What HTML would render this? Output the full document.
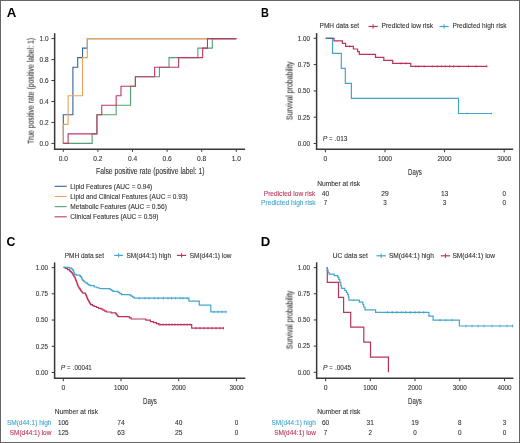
<!DOCTYPE html>
<html><head><meta charset="utf-8"><title>Figure</title>
<style>
html,body{margin:0;padding:0;background:#fff;}
body{width:520px;height:443px;overflow:hidden;}
svg{display:block;font-family:"Liberation Sans", sans-serif;}
text{will-change:transform;}
</style></head>
<body>
<svg width="520" height="443" viewBox="0 0 520 443">
<rect x="0" y="0" width="520" height="443" fill="#fff"/>
<rect x="0.5" y="0.5" width="519" height="442" fill="none" stroke="#666" stroke-width="1"/>
<text x="6.72" y="16.60" font-size="12.3" fill="#000" textLength="9.57" lengthAdjust="spacingAndGlyphs" font-weight="bold">A</text>
<text x="260.97" y="16.60" font-size="12.3" fill="#000" textLength="7.90" lengthAdjust="spacingAndGlyphs" font-weight="bold">B</text>
<text x="6.55" y="245.70" font-size="12.3" fill="#000" textLength="8.88" lengthAdjust="spacingAndGlyphs" font-weight="bold">C</text>
<text x="260.82" y="245.80" font-size="12.3" fill="#000" textLength="9.50" lengthAdjust="spacingAndGlyphs" font-weight="bold">D</text>
<line x1="54.65" y1="33.20" x2="54.65" y2="149.95" stroke="#383838" stroke-width="1.5"/>
<line x1="54.00" y1="149.30" x2="245.10" y2="149.30" stroke="#383838" stroke-width="1.5"/>
<line x1="51.40" y1="143.40" x2="54.65" y2="143.40" stroke="#383838" stroke-width="1.0"/>
<text x="39.60" y="145.70" font-size="6.6" fill="#333333" stroke="#333333" stroke-width="0.1" textLength="9.00" lengthAdjust="spacingAndGlyphs">0.0</text>
<line x1="63.30" y1="149.30" x2="63.30" y2="151.80" stroke="#383838" stroke-width="1.0"/>
<text x="58.70" y="161.30" font-size="6.6" fill="#333333" stroke="#333333" stroke-width="0.1" textLength="9.20" lengthAdjust="spacingAndGlyphs">0.0</text>
<line x1="51.40" y1="122.44" x2="54.65" y2="122.44" stroke="#383838" stroke-width="1.0"/>
<text x="39.60" y="124.74" font-size="6.6" fill="#333333" stroke="#333333" stroke-width="0.1" textLength="9.00" lengthAdjust="spacingAndGlyphs">0.2</text>
<line x1="97.90" y1="149.30" x2="97.90" y2="151.80" stroke="#383838" stroke-width="1.0"/>
<text x="93.30" y="161.30" font-size="6.6" fill="#333333" stroke="#333333" stroke-width="0.1" textLength="9.20" lengthAdjust="spacingAndGlyphs">0.2</text>
<line x1="51.40" y1="101.48" x2="54.65" y2="101.48" stroke="#383838" stroke-width="1.0"/>
<text x="39.60" y="103.78" font-size="6.6" fill="#333333" stroke="#333333" stroke-width="0.1" textLength="9.00" lengthAdjust="spacingAndGlyphs">0.4</text>
<line x1="132.50" y1="149.30" x2="132.50" y2="151.80" stroke="#383838" stroke-width="1.0"/>
<text x="127.90" y="161.30" font-size="6.6" fill="#333333" stroke="#333333" stroke-width="0.1" textLength="9.20" lengthAdjust="spacingAndGlyphs">0.4</text>
<line x1="51.40" y1="80.52" x2="54.65" y2="80.52" stroke="#383838" stroke-width="1.0"/>
<text x="39.60" y="82.82" font-size="6.6" fill="#333333" stroke="#333333" stroke-width="0.1" textLength="9.00" lengthAdjust="spacingAndGlyphs">0.6</text>
<line x1="167.10" y1="149.30" x2="167.10" y2="151.80" stroke="#383838" stroke-width="1.0"/>
<text x="162.50" y="161.30" font-size="6.6" fill="#333333" stroke="#333333" stroke-width="0.1" textLength="9.20" lengthAdjust="spacingAndGlyphs">0.6</text>
<line x1="51.40" y1="59.56" x2="54.65" y2="59.56" stroke="#383838" stroke-width="1.0"/>
<text x="39.60" y="61.86" font-size="6.6" fill="#333333" stroke="#333333" stroke-width="0.1" textLength="9.00" lengthAdjust="spacingAndGlyphs">0.8</text>
<line x1="201.70" y1="149.30" x2="201.70" y2="151.80" stroke="#383838" stroke-width="1.0"/>
<text x="197.10" y="161.30" font-size="6.6" fill="#333333" stroke="#333333" stroke-width="0.1" textLength="9.20" lengthAdjust="spacingAndGlyphs">0.8</text>
<line x1="51.40" y1="38.60" x2="54.65" y2="38.60" stroke="#383838" stroke-width="1.0"/>
<text x="39.60" y="40.90" font-size="6.6" fill="#333333" stroke="#333333" stroke-width="0.1" textLength="9.00" lengthAdjust="spacingAndGlyphs">1.0</text>
<line x1="236.30" y1="149.30" x2="236.30" y2="151.80" stroke="#383838" stroke-width="1.0"/>
<text x="231.70" y="161.30" font-size="6.6" fill="#333333" stroke="#333333" stroke-width="0.1" textLength="9.20" lengthAdjust="spacingAndGlyphs">1.0</text>
<text x="96.00" y="173.80" font-size="8.5" fill="#333333" stroke="#333333" stroke-width="0.1" textLength="108.60" lengthAdjust="spacingAndGlyphs">False positive rate (positive label: 1)</text>
<g transform="translate(33.7,143.9) rotate(-90)">
<text x="0.00" y="0.00" font-size="8.5" fill="#333333" stroke="#333333" stroke-width="0.1" textLength="106.00" lengthAdjust="spacingAndGlyphs">True positive rate (positive label: 1)</text>
</g>
<polyline points="63.30,143.40 63.30,114.82 72.91,114.82 72.91,67.18 77.72,67.18 77.72,57.65 82.52,57.65 82.52,48.13 87.33,48.13 87.33,38.60 236.30,38.60" fill="none" stroke="#33649a" stroke-width="1.1" stroke-linejoin="miter"/>
<polyline points="63.30,143.40 63.30,124.35 68.11,124.35 68.11,95.76 82.52,95.76 82.52,57.65 87.33,57.65 87.33,38.60 236.30,38.60" fill="none" stroke="#eba25e" stroke-width="1.1" stroke-linejoin="miter"/>
<polyline points="63.30,143.40 92.13,143.40 92.13,133.87 96.94,133.87 96.94,114.82 116.16,114.82 116.16,105.29 130.58,105.29 130.58,86.24 135.38,86.24 135.38,76.71 159.41,76.71 159.41,67.18 169.02,67.18 169.02,57.65 197.86,57.65 197.86,48.13 212.27,48.13 212.27,38.60 236.30,38.60" fill="none" stroke="#52a26e" stroke-width="1.1" stroke-linejoin="miter"/>
<polyline points="63.30,143.40 68.11,143.40 68.11,133.87 96.94,133.87 96.94,114.82 101.74,114.82 101.74,105.29 116.16,105.29 116.16,95.76 120.97,95.76 120.97,86.24 135.38,86.24 135.38,76.71 154.61,76.71 154.61,67.18 178.63,67.18 178.63,57.65 202.66,57.65 202.66,48.13 207.47,48.13 207.47,38.60 236.30,38.60" fill="none" stroke="#bf3a60" stroke-width="1.1" stroke-linejoin="miter"/>
<line x1="54.60" y1="186.30" x2="66.70" y2="186.30" stroke="#33649a" stroke-width="1.1"/>
<text x="70.30" y="188.80" font-size="6.5" fill="#333333" stroke="#333333" stroke-width="0.1" textLength="82.00" lengthAdjust="spacingAndGlyphs">Lipid Features (AUC = 0.94)</text>
<line x1="54.60" y1="196.47" x2="66.70" y2="196.47" stroke="#eba25e" stroke-width="1.1"/>
<text x="70.30" y="198.97" font-size="6.5" fill="#333333" stroke="#333333" stroke-width="0.1" textLength="117.50" lengthAdjust="spacingAndGlyphs">Lipid and Clinical Features (AUC = 0.93)</text>
<line x1="54.60" y1="206.64" x2="66.70" y2="206.64" stroke="#52a26e" stroke-width="1.1"/>
<text x="70.30" y="209.14" font-size="6.5" fill="#333333" stroke="#333333" stroke-width="0.1" textLength="96.60" lengthAdjust="spacingAndGlyphs">Metabolic Features (AUC = 0.56)</text>
<line x1="54.60" y1="216.81" x2="66.70" y2="216.81" stroke="#bf3a60" stroke-width="1.1"/>
<text x="70.30" y="219.31" font-size="6.5" fill="#333333" stroke="#333333" stroke-width="0.1" textLength="88.20" lengthAdjust="spacingAndGlyphs">Clinical Features (AUC = 0.59)</text>
<line x1="316.60" y1="33.10" x2="316.60" y2="149.95" stroke="#383838" stroke-width="1.5"/>
<line x1="315.95" y1="149.30" x2="513.20" y2="149.30" stroke="#383838" stroke-width="1.5"/>
<line x1="313.70" y1="143.50" x2="316.60" y2="143.50" stroke="#383838" stroke-width="1.0"/>
<text x="297.70" y="145.80" font-size="6.6" fill="#333333" stroke="#333333" stroke-width="0.1" textLength="12.20" lengthAdjust="spacingAndGlyphs">0.00</text>
<line x1="313.70" y1="117.20" x2="316.60" y2="117.20" stroke="#383838" stroke-width="1.0"/>
<text x="297.70" y="119.50" font-size="6.6" fill="#333333" stroke="#333333" stroke-width="0.1" textLength="12.20" lengthAdjust="spacingAndGlyphs">0.25</text>
<line x1="313.70" y1="90.90" x2="316.60" y2="90.90" stroke="#383838" stroke-width="1.0"/>
<text x="297.70" y="93.20" font-size="6.6" fill="#333333" stroke="#333333" stroke-width="0.1" textLength="12.20" lengthAdjust="spacingAndGlyphs">0.50</text>
<line x1="313.70" y1="64.60" x2="316.60" y2="64.60" stroke="#383838" stroke-width="1.0"/>
<text x="297.70" y="66.90" font-size="6.6" fill="#333333" stroke="#333333" stroke-width="0.1" textLength="12.20" lengthAdjust="spacingAndGlyphs">0.75</text>
<line x1="313.70" y1="38.30" x2="316.60" y2="38.30" stroke="#383838" stroke-width="1.0"/>
<text x="297.70" y="40.60" font-size="6.6" fill="#333333" stroke="#333333" stroke-width="0.1" textLength="12.20" lengthAdjust="spacingAndGlyphs">1.00</text>
<line x1="325.40" y1="149.30" x2="325.40" y2="152.30" stroke="#383838" stroke-width="1.0"/>
<text x="323.50" y="160.90" font-size="6.6" fill="#333333" stroke="#333333" stroke-width="0.1" textLength="3.80" lengthAdjust="spacingAndGlyphs">0</text>
<line x1="385.00" y1="149.30" x2="385.00" y2="152.30" stroke="#383838" stroke-width="1.0"/>
<text x="378.00" y="160.90" font-size="6.6" fill="#333333" stroke="#333333" stroke-width="0.1" textLength="14.00" lengthAdjust="spacingAndGlyphs">1000</text>
<line x1="444.60" y1="149.30" x2="444.60" y2="152.30" stroke="#383838" stroke-width="1.0"/>
<text x="437.60" y="160.90" font-size="6.6" fill="#333333" stroke="#333333" stroke-width="0.1" textLength="14.00" lengthAdjust="spacingAndGlyphs">2000</text>
<line x1="504.20" y1="149.30" x2="504.20" y2="152.30" stroke="#383838" stroke-width="1.0"/>
<text x="497.20" y="160.90" font-size="6.6" fill="#333333" stroke="#333333" stroke-width="0.1" textLength="14.00" lengthAdjust="spacingAndGlyphs">3000</text>
<text x="408.10" y="174.50" font-size="8.8" fill="#333333" stroke="#333333" stroke-width="0.1" textLength="13.80" lengthAdjust="spacingAndGlyphs">Days</text>
<g transform="translate(292.5,120.1) rotate(-90)">
<text x="0.00" y="0.00" font-size="8.8" fill="#333333" stroke="#333333" stroke-width="0.1" textLength="58.60" lengthAdjust="spacingAndGlyphs">Survival probability</text>
</g>
<text x="322.80" y="140.60" font-size="6.8" fill="#333333" stroke="#333333" stroke-width="0.1" font-style="italic">P</text>
<text x="329.10" y="140.60" font-size="6.8" fill="#333333" stroke="#333333" stroke-width="0.1" textLength="3.40" lengthAdjust="spacingAndGlyphs">=</text>
<text x="334.80" y="140.60" font-size="6.8" fill="#333333" stroke="#333333" stroke-width="0.1" textLength="12.60" lengthAdjust="spacingAndGlyphs">.013</text>
<text x="319.60" y="28.40" font-size="6.5" fill="#333333" stroke="#333333" stroke-width="0.1" textLength="39.50" lengthAdjust="spacingAndGlyphs">PMH data set</text>
<line x1="368.50" y1="26.50" x2="377.70" y2="26.50" stroke="#bd3358" stroke-width="1.2"/>
<line x1="373.10" y1="24.30" x2="373.10" y2="28.70" stroke="#bd3358" stroke-width="1.0"/>
<text x="381.50" y="28.40" font-size="6.5" fill="#333333" stroke="#333333" stroke-width="0.1" textLength="51.60" lengthAdjust="spacingAndGlyphs">Predicted low risk</text>
<line x1="439.50" y1="26.50" x2="448.70" y2="26.50" stroke="#42a6cf" stroke-width="1.2"/>
<line x1="444.10" y1="24.30" x2="444.10" y2="28.70" stroke="#42a6cf" stroke-width="1.0"/>
<text x="452.50" y="28.40" font-size="6.5" fill="#333333" stroke="#333333" stroke-width="0.1" textLength="54.00" lengthAdjust="spacingAndGlyphs">Predicted high risk</text>
<polyline points="325.80,38.40 334.00,38.40 334.00,40.90 342.40,40.90 342.40,43.40 345.60,43.40 345.60,46.30 353.40,46.30 353.40,49.00 357.60,49.00 357.60,51.60 359.30,51.60 359.30,54.40 375.50,54.40 375.50,57.40 383.80,57.40 383.80,60.30 392.70,60.30 392.70,63.40 410.80,63.40 410.80,66.40 487.30,66.40" fill="none" stroke="#bd3358" stroke-width="1.2" stroke-linejoin="miter"/>
<line x1="349.50" y1="45.20" x2="349.50" y2="47.40" stroke="#bd3358" stroke-width="0.7"/>
<line x1="401.00" y1="62.30" x2="401.00" y2="64.50" stroke="#bd3358" stroke-width="0.7"/>
<line x1="405.80" y1="62.30" x2="405.80" y2="64.50" stroke="#bd3358" stroke-width="0.7"/>
<line x1="415.80" y1="65.30" x2="415.80" y2="67.50" stroke="#bd3358" stroke-width="0.7"/>
<line x1="418.80" y1="65.30" x2="418.80" y2="67.50" stroke="#bd3358" stroke-width="0.7"/>
<line x1="424.20" y1="65.30" x2="424.20" y2="67.50" stroke="#bd3358" stroke-width="0.7"/>
<line x1="432.40" y1="65.30" x2="432.40" y2="67.50" stroke="#bd3358" stroke-width="0.7"/>
<line x1="437.30" y1="65.30" x2="437.30" y2="67.50" stroke="#bd3358" stroke-width="0.7"/>
<line x1="441.60" y1="65.30" x2="441.60" y2="67.50" stroke="#bd3358" stroke-width="0.7"/>
<line x1="445.30" y1="65.30" x2="445.30" y2="67.50" stroke="#bd3358" stroke-width="0.7"/>
<line x1="449.60" y1="65.30" x2="449.60" y2="67.50" stroke="#bd3358" stroke-width="0.7"/>
<line x1="453.50" y1="65.30" x2="453.50" y2="67.50" stroke="#bd3358" stroke-width="0.7"/>
<line x1="458.80" y1="65.30" x2="458.80" y2="67.50" stroke="#bd3358" stroke-width="0.7"/>
<line x1="468.50" y1="65.30" x2="468.50" y2="67.50" stroke="#bd3358" stroke-width="0.7"/>
<line x1="476.20" y1="65.30" x2="476.20" y2="67.50" stroke="#bd3358" stroke-width="0.7"/>
<line x1="486.70" y1="65.30" x2="486.70" y2="67.50" stroke="#bd3358" stroke-width="0.7"/>
<polyline points="325.80,38.40 332.50,38.40 332.50,53.40 341.30,53.40 341.30,68.40 345.30,68.40 345.30,83.40 351.40,83.40 351.40,98.40 458.50,98.40 458.50,113.50 491.50,113.50" fill="none" stroke="#42a6cf" stroke-width="1.2" stroke-linejoin="miter"/>
<line x1="467.00" y1="112.40" x2="467.00" y2="114.60" stroke="#42a6cf" stroke-width="0.7"/>
<line x1="491.30" y1="112.40" x2="491.30" y2="114.60" stroke="#42a6cf" stroke-width="0.7"/>
<line x1="325.80" y1="38.40" x2="333.00" y2="38.40" stroke="#4d6f80" stroke-width="1.2"/>
<text x="317.20" y="185.50" font-size="6.8" fill="#333333" stroke="#333333" stroke-width="0.1" textLength="43.00" lengthAdjust="spacingAndGlyphs">Number at risk</text>
<text x="263.80" y="195.90" font-size="6.8" fill="#bd3358" stroke="#bd3358" stroke-width="0.1" textLength="51.40" lengthAdjust="spacingAndGlyphs">Predicted low risk</text>
<text x="261.10" y="205.20" font-size="6.8" fill="#42a6cf" stroke="#42a6cf" stroke-width="0.1" textLength="54.60" lengthAdjust="spacingAndGlyphs">Predicted high risk</text>
<text x="321.70" y="195.90" font-size="6.8" fill="#333333" stroke="#333333" stroke-width="0.1" textLength="7.40" lengthAdjust="spacingAndGlyphs">40</text>
<text x="323.65" y="205.20" font-size="6.8" fill="#333333" stroke="#333333" stroke-width="0.1" textLength="3.50" lengthAdjust="spacingAndGlyphs">7</text>
<text x="381.30" y="195.90" font-size="6.8" fill="#333333" stroke="#333333" stroke-width="0.1" textLength="7.40" lengthAdjust="spacingAndGlyphs">29</text>
<text x="383.25" y="205.20" font-size="6.8" fill="#333333" stroke="#333333" stroke-width="0.1" textLength="3.50" lengthAdjust="spacingAndGlyphs">3</text>
<text x="440.90" y="195.90" font-size="6.8" fill="#333333" stroke="#333333" stroke-width="0.1" textLength="7.40" lengthAdjust="spacingAndGlyphs">13</text>
<text x="442.85" y="205.20" font-size="6.8" fill="#333333" stroke="#333333" stroke-width="0.1" textLength="3.50" lengthAdjust="spacingAndGlyphs">3</text>
<text x="502.45" y="195.90" font-size="6.8" fill="#333333" stroke="#333333" stroke-width="0.1" textLength="3.50" lengthAdjust="spacingAndGlyphs">0</text>
<text x="502.45" y="205.20" font-size="6.8" fill="#333333" stroke="#333333" stroke-width="0.1" textLength="3.50" lengthAdjust="spacingAndGlyphs">0</text>
<line x1="54.60" y1="262.40" x2="54.60" y2="378.90" stroke="#383838" stroke-width="1.5"/>
<line x1="53.95" y1="378.25" x2="245.30" y2="378.25" stroke="#383838" stroke-width="1.5"/>
<line x1="51.70" y1="372.50" x2="54.60" y2="372.50" stroke="#383838" stroke-width="1.0"/>
<text x="35.70" y="374.80" font-size="6.6" fill="#333333" stroke="#333333" stroke-width="0.1" textLength="12.20" lengthAdjust="spacingAndGlyphs">0.00</text>
<line x1="51.70" y1="346.27" x2="54.60" y2="346.27" stroke="#383838" stroke-width="1.0"/>
<text x="35.70" y="348.57" font-size="6.6" fill="#333333" stroke="#333333" stroke-width="0.1" textLength="12.20" lengthAdjust="spacingAndGlyphs">0.25</text>
<line x1="51.70" y1="320.05" x2="54.60" y2="320.05" stroke="#383838" stroke-width="1.0"/>
<text x="35.70" y="322.35" font-size="6.6" fill="#333333" stroke="#333333" stroke-width="0.1" textLength="12.20" lengthAdjust="spacingAndGlyphs">0.50</text>
<line x1="51.70" y1="293.82" x2="54.60" y2="293.82" stroke="#383838" stroke-width="1.0"/>
<text x="35.70" y="296.12" font-size="6.6" fill="#333333" stroke="#333333" stroke-width="0.1" textLength="12.20" lengthAdjust="spacingAndGlyphs">0.75</text>
<line x1="51.70" y1="267.60" x2="54.60" y2="267.60" stroke="#383838" stroke-width="1.0"/>
<text x="35.70" y="269.90" font-size="6.6" fill="#333333" stroke="#333333" stroke-width="0.1" textLength="12.20" lengthAdjust="spacingAndGlyphs">1.00</text>
<line x1="63.30" y1="378.25" x2="63.30" y2="381.25" stroke="#383838" stroke-width="1.0"/>
<text x="61.40" y="389.60" font-size="6.6" fill="#333333" stroke="#333333" stroke-width="0.1" textLength="3.80" lengthAdjust="spacingAndGlyphs">0</text>
<line x1="121.00" y1="378.25" x2="121.00" y2="381.25" stroke="#383838" stroke-width="1.0"/>
<text x="114.00" y="389.60" font-size="6.6" fill="#333333" stroke="#333333" stroke-width="0.1" textLength="14.00" lengthAdjust="spacingAndGlyphs">1000</text>
<line x1="178.70" y1="378.25" x2="178.70" y2="381.25" stroke="#383838" stroke-width="1.0"/>
<text x="171.70" y="389.60" font-size="6.6" fill="#333333" stroke="#333333" stroke-width="0.1" textLength="14.00" lengthAdjust="spacingAndGlyphs">2000</text>
<line x1="236.40" y1="378.25" x2="236.40" y2="381.25" stroke="#383838" stroke-width="1.0"/>
<text x="229.40" y="389.60" font-size="6.6" fill="#333333" stroke="#333333" stroke-width="0.1" textLength="14.00" lengthAdjust="spacingAndGlyphs">3000</text>
<text x="143.00" y="403.80" font-size="8.8" fill="#333333" stroke="#333333" stroke-width="0.1" textLength="13.90" lengthAdjust="spacingAndGlyphs">Days</text>
<text x="60.80" y="370.40" font-size="6.8" fill="#333333" stroke="#333333" stroke-width="0.1" font-style="italic">P</text>
<text x="67.10" y="370.40" font-size="6.8" fill="#333333" stroke="#333333" stroke-width="0.1" textLength="3.40" lengthAdjust="spacingAndGlyphs">=</text>
<text x="72.80" y="370.40" font-size="6.8" fill="#333333" stroke="#333333" stroke-width="0.1" textLength="19.00" lengthAdjust="spacingAndGlyphs">.00041</text>
<text x="64.80" y="257.60" font-size="6.5" fill="#333333" stroke="#333333" stroke-width="0.1" textLength="39.20" lengthAdjust="spacingAndGlyphs">PMH data set</text>
<line x1="114.20" y1="255.40" x2="123.10" y2="255.40" stroke="#42a6cf" stroke-width="1.2"/>
<line x1="118.65" y1="253.20" x2="118.65" y2="257.60" stroke="#42a6cf" stroke-width="1.0"/>
<text x="126.50" y="257.60" font-size="6.5" fill="#333333" stroke="#333333" stroke-width="0.1" textLength="44.60" lengthAdjust="spacingAndGlyphs">SM(d44:1) high</text>
<line x1="176.90" y1="255.40" x2="186.20" y2="255.40" stroke="#bd3358" stroke-width="1.2"/>
<line x1="181.55" y1="253.20" x2="181.55" y2="257.60" stroke="#bd3358" stroke-width="1.0"/>
<text x="189.70" y="257.60" font-size="6.5" fill="#333333" stroke="#333333" stroke-width="0.1" textLength="41.80" lengthAdjust="spacingAndGlyphs">SM(d44:1) low</text>
<polyline points="63.50,267.30 65.20,267.30 65.20,268.50 67.50,268.50 67.50,269.60 69.50,269.60 69.50,270.80 70.40,270.80 70.40,271.65 71.30,271.65 71.30,272.50 72.15,272.50 72.15,273.65 73.00,273.65 73.00,274.80 73.70,274.80 73.70,276.00 74.40,276.00 74.40,277.20 75.10,277.20 75.10,278.40 75.46,278.40 75.46,279.34 75.82,279.34 75.82,280.28 76.18,280.28 76.18,281.22 76.54,281.22 76.54,282.16 76.90,282.16 76.90,283.10 77.25,283.10 77.25,284.08 77.60,284.08 77.60,285.05 77.95,285.05 77.95,286.02 78.30,286.02 78.30,287.00 79.03,287.00 79.03,288.10 79.77,288.10 79.77,289.20 80.50,289.20 80.50,290.30 81.23,290.30 81.23,291.27 81.97,291.27 81.97,292.23 82.70,292.23 82.70,293.20 85.60,293.20 85.60,294.60 86.10,294.60 86.10,295.70 86.60,295.70 86.60,296.80 86.97,296.80 86.97,297.70 87.35,297.70 87.35,298.60 87.72,298.60 87.72,299.50 88.10,299.50 88.10,300.40 88.72,300.40 88.72,301.47 89.35,301.47 89.35,302.55 89.97,302.55 89.97,303.62 90.60,303.62 90.60,304.70 92.40,304.70 92.40,305.60 94.20,305.60 94.20,306.50 96.35,306.50 96.35,307.40 98.50,307.40 98.50,308.30 101.20,308.30 101.20,309.20 102.97,309.20 102.97,310.13 104.73,310.13 104.73,311.07 106.50,311.07 106.50,312.00 111.15,312.00 111.15,312.90 115.80,312.90 115.80,313.80 116.53,313.80 116.53,314.73 117.27,314.73 117.27,315.67 118.00,315.67 118.00,316.60 128.10,316.60 128.10,316.90 129.65,316.90 129.65,317.95 131.20,317.95 131.20,319.00 145.80,319.00 145.80,320.20 150.40,320.20 150.40,321.60 153.45,321.60 153.45,322.60 156.50,322.60 156.50,323.60 158.80,323.60 158.80,324.60 191.70,324.60 191.70,328.20 224.00,328.20" fill="none" stroke="#bd3358" stroke-width="1.2" stroke-linejoin="miter"/>
<line x1="160.00" y1="323.50" x2="160.00" y2="325.70" stroke="#bd3358" stroke-width="0.8"/>
<line x1="163.00" y1="323.50" x2="163.00" y2="325.70" stroke="#bd3358" stroke-width="0.8"/>
<line x1="166.00" y1="323.50" x2="166.00" y2="325.70" stroke="#bd3358" stroke-width="0.8"/>
<line x1="169.00" y1="323.50" x2="169.00" y2="325.70" stroke="#bd3358" stroke-width="0.8"/>
<line x1="172.00" y1="323.50" x2="172.00" y2="325.70" stroke="#bd3358" stroke-width="0.8"/>
<line x1="175.00" y1="323.50" x2="175.00" y2="325.70" stroke="#bd3358" stroke-width="0.8"/>
<line x1="178.00" y1="323.50" x2="178.00" y2="325.70" stroke="#bd3358" stroke-width="0.8"/>
<line x1="181.00" y1="323.50" x2="181.00" y2="325.70" stroke="#bd3358" stroke-width="0.8"/>
<line x1="184.00" y1="323.50" x2="184.00" y2="325.70" stroke="#bd3358" stroke-width="0.8"/>
<line x1="187.00" y1="323.50" x2="187.00" y2="325.70" stroke="#bd3358" stroke-width="0.8"/>
<line x1="190.00" y1="323.50" x2="190.00" y2="325.70" stroke="#bd3358" stroke-width="0.8"/>
<line x1="196.00" y1="326.90" x2="196.00" y2="329.50" stroke="#bd3358" stroke-width="0.8"/>
<line x1="200.00" y1="326.90" x2="200.00" y2="329.50" stroke="#bd3358" stroke-width="0.8"/>
<line x1="204.00" y1="326.90" x2="204.00" y2="329.50" stroke="#bd3358" stroke-width="0.8"/>
<line x1="208.00" y1="326.90" x2="208.00" y2="329.50" stroke="#bd3358" stroke-width="0.8"/>
<line x1="212.00" y1="326.90" x2="212.00" y2="329.50" stroke="#bd3358" stroke-width="0.8"/>
<line x1="216.00" y1="326.90" x2="216.00" y2="329.50" stroke="#bd3358" stroke-width="0.8"/>
<line x1="220.00" y1="326.90" x2="220.00" y2="329.50" stroke="#bd3358" stroke-width="0.8"/>
<line x1="223.50" y1="326.90" x2="223.50" y2="329.50" stroke="#bd3358" stroke-width="0.8"/>
<polyline points="63.50,267.30 68.10,267.30 69.50,267.30 69.50,268.20 71.50,268.20 71.50,268.80 72.40,268.80 72.40,269.95 73.30,269.95 73.30,271.10 73.67,271.10 73.67,272.17 74.03,272.17 74.03,273.23 74.40,273.23 74.40,274.30 76.20,274.30 76.20,275.10 79.60,275.10 79.60,275.70 80.50,275.70 80.50,276.55 81.40,276.55 81.40,277.40 81.70,277.40 81.70,278.33 82.00,278.33 82.00,279.27 82.30,279.27 82.30,280.20 83.40,280.20 83.40,281.10 84.50,281.10 84.50,282.00 85.95,282.00 85.95,283.05 87.40,283.05 87.40,284.10 88.65,284.10 88.65,284.85 89.90,284.85 89.90,285.60 94.20,285.60 94.20,287.00 96.75,287.00 96.75,287.75 99.30,287.75 99.30,288.50 101.30,288.50 101.30,288.60 110.00,288.60 110.00,289.50 111.45,289.50 111.45,290.40 112.90,290.40 112.90,291.30 118.10,291.30 118.10,292.40 119.80,292.40 119.80,293.55 121.50,293.55 121.50,294.70 129.60,294.70 129.60,295.10 131.13,295.10 131.13,296.13 132.67,296.13 132.67,297.17 134.20,297.17 134.20,298.20 188.90,298.20 188.90,301.20 199.30,301.20 199.30,305.10 210.80,305.10 210.80,311.90 226.50,311.90" fill="none" stroke="#42a6cf" stroke-width="1.2" stroke-linejoin="miter"/>
<line x1="139.20" y1="296.90" x2="139.20" y2="299.50" stroke="#42a6cf" stroke-width="0.8"/>
<line x1="145.00" y1="296.90" x2="145.00" y2="299.50" stroke="#42a6cf" stroke-width="0.8"/>
<line x1="149.00" y1="296.90" x2="149.00" y2="299.50" stroke="#42a6cf" stroke-width="0.8"/>
<line x1="154.20" y1="296.90" x2="154.20" y2="299.50" stroke="#42a6cf" stroke-width="0.8"/>
<line x1="158.30" y1="296.90" x2="158.30" y2="299.50" stroke="#42a6cf" stroke-width="0.8"/>
<line x1="163.40" y1="296.90" x2="163.40" y2="299.50" stroke="#42a6cf" stroke-width="0.8"/>
<line x1="168.00" y1="296.90" x2="168.00" y2="299.50" stroke="#42a6cf" stroke-width="0.8"/>
<line x1="171.50" y1="296.90" x2="171.50" y2="299.50" stroke="#42a6cf" stroke-width="0.8"/>
<line x1="175.60" y1="296.90" x2="175.60" y2="299.50" stroke="#42a6cf" stroke-width="0.8"/>
<line x1="180.20" y1="296.90" x2="180.20" y2="299.50" stroke="#42a6cf" stroke-width="0.8"/>
<line x1="183.00" y1="296.90" x2="183.00" y2="299.50" stroke="#42a6cf" stroke-width="0.8"/>
<line x1="187.10" y1="296.90" x2="187.10" y2="299.50" stroke="#42a6cf" stroke-width="0.8"/>
<line x1="214.00" y1="310.60" x2="214.00" y2="313.20" stroke="#42a6cf" stroke-width="0.8"/>
<line x1="218.00" y1="310.60" x2="218.00" y2="313.20" stroke="#42a6cf" stroke-width="0.8"/>
<line x1="222.00" y1="310.60" x2="222.00" y2="313.20" stroke="#42a6cf" stroke-width="0.8"/>
<line x1="226.00" y1="310.60" x2="226.00" y2="313.20" stroke="#42a6cf" stroke-width="0.8"/>
<text x="54.80" y="414.00" font-size="6.8" fill="#333333" stroke="#333333" stroke-width="0.1" textLength="43.20" lengthAdjust="spacingAndGlyphs">Number at risk</text>
<text x="6.90" y="425.00" font-size="6.8" fill="#42a6cf" stroke="#42a6cf" stroke-width="0.1" textLength="44.60" lengthAdjust="spacingAndGlyphs">SM(d44:1) high</text>
<text x="9.80" y="434.60" font-size="6.8" fill="#bd3358" stroke="#bd3358" stroke-width="0.1" textLength="41.50" lengthAdjust="spacingAndGlyphs">SM(d44:1) low</text>
<text x="58.00" y="425.00" font-size="6.8" fill="#333333" stroke="#333333" stroke-width="0.1" textLength="10.60" lengthAdjust="spacingAndGlyphs">106</text>
<text x="58.00" y="434.60" font-size="6.8" fill="#333333" stroke="#333333" stroke-width="0.1" textLength="10.60" lengthAdjust="spacingAndGlyphs">125</text>
<text x="117.30" y="425.00" font-size="6.8" fill="#333333" stroke="#333333" stroke-width="0.1" textLength="7.40" lengthAdjust="spacingAndGlyphs">74</text>
<text x="117.30" y="434.60" font-size="6.8" fill="#333333" stroke="#333333" stroke-width="0.1" textLength="7.40" lengthAdjust="spacingAndGlyphs">63</text>
<text x="175.00" y="425.00" font-size="6.8" fill="#333333" stroke="#333333" stroke-width="0.1" textLength="7.40" lengthAdjust="spacingAndGlyphs">40</text>
<text x="175.00" y="434.60" font-size="6.8" fill="#333333" stroke="#333333" stroke-width="0.1" textLength="7.40" lengthAdjust="spacingAndGlyphs">25</text>
<text x="234.65" y="425.00" font-size="6.8" fill="#333333" stroke="#333333" stroke-width="0.1" textLength="3.50" lengthAdjust="spacingAndGlyphs">0</text>
<text x="234.65" y="434.60" font-size="6.8" fill="#333333" stroke="#333333" stroke-width="0.1" textLength="3.50" lengthAdjust="spacingAndGlyphs">0</text>
<line x1="316.65" y1="262.30" x2="316.65" y2="378.85" stroke="#383838" stroke-width="1.5"/>
<line x1="316.00" y1="378.20" x2="513.40" y2="378.20" stroke="#383838" stroke-width="1.5"/>
<line x1="313.75" y1="372.30" x2="316.65" y2="372.30" stroke="#383838" stroke-width="1.0"/>
<text x="297.70" y="374.60" font-size="6.6" fill="#333333" stroke="#333333" stroke-width="0.1" textLength="12.20" lengthAdjust="spacingAndGlyphs">0.00</text>
<line x1="313.75" y1="346.12" x2="316.65" y2="346.12" stroke="#383838" stroke-width="1.0"/>
<text x="297.70" y="348.43" font-size="6.6" fill="#333333" stroke="#333333" stroke-width="0.1" textLength="12.20" lengthAdjust="spacingAndGlyphs">0.25</text>
<line x1="313.75" y1="319.95" x2="316.65" y2="319.95" stroke="#383838" stroke-width="1.0"/>
<text x="297.70" y="322.25" font-size="6.6" fill="#333333" stroke="#333333" stroke-width="0.1" textLength="12.20" lengthAdjust="spacingAndGlyphs">0.50</text>
<line x1="313.75" y1="293.77" x2="316.65" y2="293.77" stroke="#383838" stroke-width="1.0"/>
<text x="297.70" y="296.07" font-size="6.6" fill="#333333" stroke="#333333" stroke-width="0.1" textLength="12.20" lengthAdjust="spacingAndGlyphs">0.75</text>
<line x1="313.75" y1="267.60" x2="316.65" y2="267.60" stroke="#383838" stroke-width="1.0"/>
<text x="297.70" y="269.90" font-size="6.6" fill="#333333" stroke="#333333" stroke-width="0.1" textLength="12.20" lengthAdjust="spacingAndGlyphs">1.00</text>
<line x1="325.60" y1="378.20" x2="325.60" y2="381.20" stroke="#383838" stroke-width="1.0"/>
<text x="323.70" y="389.60" font-size="6.6" fill="#333333" stroke="#333333" stroke-width="0.1" textLength="3.80" lengthAdjust="spacingAndGlyphs">0</text>
<line x1="370.32" y1="378.20" x2="370.32" y2="381.20" stroke="#383838" stroke-width="1.0"/>
<text x="363.32" y="389.60" font-size="6.6" fill="#333333" stroke="#333333" stroke-width="0.1" textLength="14.00" lengthAdjust="spacingAndGlyphs">1000</text>
<line x1="415.04" y1="378.20" x2="415.04" y2="381.20" stroke="#383838" stroke-width="1.0"/>
<text x="408.04" y="389.60" font-size="6.6" fill="#333333" stroke="#333333" stroke-width="0.1" textLength="14.00" lengthAdjust="spacingAndGlyphs">2000</text>
<line x1="459.76" y1="378.20" x2="459.76" y2="381.20" stroke="#383838" stroke-width="1.0"/>
<text x="452.76" y="389.60" font-size="6.6" fill="#333333" stroke="#333333" stroke-width="0.1" textLength="14.00" lengthAdjust="spacingAndGlyphs">3000</text>
<line x1="504.48" y1="378.20" x2="504.48" y2="381.20" stroke="#383838" stroke-width="1.0"/>
<text x="497.48" y="389.60" font-size="6.6" fill="#333333" stroke="#333333" stroke-width="0.1" textLength="14.00" lengthAdjust="spacingAndGlyphs">4000</text>
<text x="408.10" y="403.50" font-size="8.8" fill="#333333" stroke="#333333" stroke-width="0.1" textLength="13.80" lengthAdjust="spacingAndGlyphs">Days</text>
<g transform="translate(292.5,349.2) rotate(-90)">
<text x="0.00" y="0.00" font-size="8.8" fill="#333333" stroke="#333333" stroke-width="0.1" textLength="58.60" lengthAdjust="spacingAndGlyphs">Survival probability</text>
</g>
<text x="323.00" y="370.20" font-size="6.8" fill="#333333" stroke="#333333" stroke-width="0.1" font-style="italic">P</text>
<text x="329.30" y="370.20" font-size="6.8" fill="#333333" stroke="#333333" stroke-width="0.1" textLength="3.40" lengthAdjust="spacingAndGlyphs">=</text>
<text x="335.00" y="370.20" font-size="6.8" fill="#333333" stroke="#333333" stroke-width="0.1" textLength="16.00" lengthAdjust="spacingAndGlyphs">.0045</text>
<text x="332.80" y="257.80" font-size="6.5" fill="#333333" stroke="#333333" stroke-width="0.1" textLength="35.00" lengthAdjust="spacingAndGlyphs">UC data set</text>
<line x1="376.40" y1="255.80" x2="386.00" y2="255.80" stroke="#42a6cf" stroke-width="1.2"/>
<line x1="381.20" y1="253.60" x2="381.20" y2="258.00" stroke="#42a6cf" stroke-width="1.0"/>
<text x="388.90" y="257.80" font-size="6.5" fill="#333333" stroke="#333333" stroke-width="0.1" textLength="45.00" lengthAdjust="spacingAndGlyphs">SM(d44:1) high</text>
<line x1="440.80" y1="255.80" x2="450.10" y2="255.80" stroke="#bd3358" stroke-width="1.2"/>
<line x1="445.45" y1="253.60" x2="445.45" y2="258.00" stroke="#bd3358" stroke-width="1.0"/>
<text x="452.40" y="257.80" font-size="6.5" fill="#333333" stroke="#333333" stroke-width="0.1" textLength="42.70" lengthAdjust="spacingAndGlyphs">SM(d44:1) low</text>
<polyline points="326.60,267.50 327.30,267.50 327.30,282.40 338.50,282.40 338.50,297.40 343.60,297.40 343.60,312.40 350.70,312.40 350.70,327.20 363.80,327.20 363.80,342.10 370.50,342.10 370.50,357.10 388.40,357.10 388.40,372.30" fill="none" stroke="#bd3358" stroke-width="1.2" stroke-linejoin="miter"/>
<polyline points="326.60,267.50 327.20,267.50 327.20,270.00 328.10,270.00 328.10,272.50 329.10,272.50 329.10,274.20 334.20,274.20 334.20,275.70 337.70,275.70 337.70,277.20 338.80,277.20 338.80,279.30 339.80,279.30 339.80,282.30 340.80,282.30 340.80,285.90 341.50,285.90 341.50,288.40 344.80,288.40 344.80,290.50 346.40,290.50 346.40,292.50 347.50,292.50 347.50,294.50 348.40,294.50 348.40,297.00 348.90,297.00 348.90,300.10 359.30,300.10 359.30,302.10 362.80,302.10 362.80,304.50 363.70,304.50 363.70,307.00 365.00,307.00 365.00,309.90 375.60,309.90 375.60,312.40 428.90,312.40 428.90,316.20 433.10,316.20 433.10,320.20 459.40,320.20 459.40,326.00 513.30,326.00" fill="none" stroke="#42a6cf" stroke-width="1.2" stroke-linejoin="miter"/>
<line x1="353.50" y1="299.00" x2="353.50" y2="301.20" stroke="#42a6cf" stroke-width="0.7"/>
<line x1="387.50" y1="311.10" x2="387.50" y2="313.70" stroke="#42a6cf" stroke-width="0.8"/>
<line x1="392.20" y1="311.10" x2="392.20" y2="313.70" stroke="#42a6cf" stroke-width="0.8"/>
<line x1="396.90" y1="311.10" x2="396.90" y2="313.70" stroke="#42a6cf" stroke-width="0.8"/>
<line x1="401.60" y1="311.10" x2="401.60" y2="313.70" stroke="#42a6cf" stroke-width="0.8"/>
<line x1="405.70" y1="311.10" x2="405.70" y2="313.70" stroke="#42a6cf" stroke-width="0.8"/>
<line x1="410.40" y1="311.10" x2="410.40" y2="313.70" stroke="#42a6cf" stroke-width="0.8"/>
<line x1="415.10" y1="311.10" x2="415.10" y2="313.70" stroke="#42a6cf" stroke-width="0.8"/>
<line x1="419.10" y1="311.10" x2="419.10" y2="313.70" stroke="#42a6cf" stroke-width="0.8"/>
<line x1="423.80" y1="311.10" x2="423.80" y2="313.70" stroke="#42a6cf" stroke-width="0.8"/>
<line x1="440.00" y1="318.90" x2="440.00" y2="321.50" stroke="#42a6cf" stroke-width="0.8"/>
<line x1="446.00" y1="318.90" x2="446.00" y2="321.50" stroke="#42a6cf" stroke-width="0.8"/>
<line x1="452.00" y1="318.90" x2="452.00" y2="321.50" stroke="#42a6cf" stroke-width="0.8"/>
<line x1="466.00" y1="324.70" x2="466.00" y2="327.30" stroke="#42a6cf" stroke-width="0.8"/>
<line x1="472.00" y1="324.70" x2="472.00" y2="327.30" stroke="#42a6cf" stroke-width="0.8"/>
<line x1="478.00" y1="324.70" x2="478.00" y2="327.30" stroke="#42a6cf" stroke-width="0.8"/>
<line x1="484.00" y1="324.70" x2="484.00" y2="327.30" stroke="#42a6cf" stroke-width="0.8"/>
<line x1="492.00" y1="324.70" x2="492.00" y2="327.30" stroke="#42a6cf" stroke-width="0.8"/>
<line x1="500.00" y1="324.70" x2="500.00" y2="327.30" stroke="#42a6cf" stroke-width="0.8"/>
<line x1="507.00" y1="324.70" x2="507.00" y2="327.30" stroke="#42a6cf" stroke-width="0.8"/>
<line x1="512.50" y1="324.70" x2="512.50" y2="327.30" stroke="#42a6cf" stroke-width="0.8"/>
<text x="317.20" y="413.80" font-size="6.8" fill="#333333" stroke="#333333" stroke-width="0.1" textLength="43.20" lengthAdjust="spacingAndGlyphs">Number at risk</text>
<text x="271.50" y="424.90" font-size="6.8" fill="#42a6cf" stroke="#42a6cf" stroke-width="0.1" textLength="44.40" lengthAdjust="spacingAndGlyphs">SM(d44:1) high</text>
<text x="274.20" y="434.50" font-size="6.8" fill="#bd3358" stroke="#bd3358" stroke-width="0.1" textLength="41.70" lengthAdjust="spacingAndGlyphs">SM(d44:1) low</text>
<text x="321.90" y="424.90" font-size="6.8" fill="#333333" stroke="#333333" stroke-width="0.1" textLength="7.40" lengthAdjust="spacingAndGlyphs">60</text>
<text x="323.85" y="434.50" font-size="6.8" fill="#333333" stroke="#333333" stroke-width="0.1" textLength="3.50" lengthAdjust="spacingAndGlyphs">7</text>
<text x="366.62" y="424.90" font-size="6.8" fill="#333333" stroke="#333333" stroke-width="0.1" textLength="7.40" lengthAdjust="spacingAndGlyphs">31</text>
<text x="368.57" y="434.50" font-size="6.8" fill="#333333" stroke="#333333" stroke-width="0.1" textLength="3.50" lengthAdjust="spacingAndGlyphs">2</text>
<text x="411.34" y="424.90" font-size="6.8" fill="#333333" stroke="#333333" stroke-width="0.1" textLength="7.40" lengthAdjust="spacingAndGlyphs">19</text>
<text x="413.29" y="434.50" font-size="6.8" fill="#333333" stroke="#333333" stroke-width="0.1" textLength="3.50" lengthAdjust="spacingAndGlyphs">0</text>
<text x="458.01" y="424.90" font-size="6.8" fill="#333333" stroke="#333333" stroke-width="0.1" textLength="3.50" lengthAdjust="spacingAndGlyphs">8</text>
<text x="458.01" y="434.50" font-size="6.8" fill="#333333" stroke="#333333" stroke-width="0.1" textLength="3.50" lengthAdjust="spacingAndGlyphs">0</text>
<text x="502.73" y="424.90" font-size="6.8" fill="#333333" stroke="#333333" stroke-width="0.1" textLength="3.50" lengthAdjust="spacingAndGlyphs">3</text>
<text x="502.73" y="434.50" font-size="6.8" fill="#333333" stroke="#333333" stroke-width="0.1" textLength="3.50" lengthAdjust="spacingAndGlyphs">0</text>
</svg>
</body></html>
